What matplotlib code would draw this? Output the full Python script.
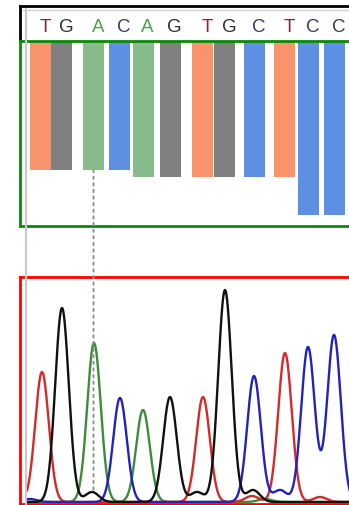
import numpy as np
import matplotlib
matplotlib.use("Agg")
import matplotlib.pyplot as plt
from matplotlib.lines import Line2D
from matplotlib.patches import ConnectionPatch
import matplotlib.transforms as mtransforms

# base calls, their positions (scan units) and bar heights
bases = ["T", "G", "A", "C", "A", "G", "T", "G", "C", "T", "C", "C"]
base_pos = [41, 61.5, 93.5, 119.5, 143, 170, 202.5, 224.5, 254, 284.5, 308, 334]
bar_height = [129, 129, 129, 129, 136, 136, 136, 136, 136, 136, 174, 174]

# trace peaks per channel: (position, height)
peaks_T = [(42, 130), (203, 105), (285, 149), (320, 5), (252, 6)]
peaks_G = [(62, 194), (92, 10), (170, 105), (197, 10), (225, 212), (253, 12)]
peaks_A = [(94, 159), (143, 92), (265, 3)]
peaks_C = [(30, 3), (120, 104), (254, 126), (280, 12), (308, 155), (334, 167)]

bar_colors = {"T": "#f8936c", "G": "#808080", "A": "#88bb8c", "C": "#5d8fe3"}
letter_colors = {"T": "#8e2236", "G": "#303030", "A": "#4f9f4f", "C": "#3a3a60"}
trace_colors = {"T": "#d42a2a", "G": "#111111", "A": "#3c8c3c", "C": "#2323bb"}

W, H = 349, 505
fig = plt.figure(figsize=(W / 100, H / 100), dpi=100)
fig.patch.set_facecolor("white")


def pax(x0, y0, x1, y1):
    return fig.add_axes([x0 / W, 1 - y1 / H, (x1 - x0) / W, (y1 - y0) / H])


def clean(ax, color):
    ax.set_xticks([])
    ax.set_yticks([])
    for s in ax.spines.values():
        s.set_color(color)
        s.set_linewidth(2)


XMIN, XMAX = 20, 362

# sequence letters
ax_seq = pax(20, 6, XMAX, 41)
clean(ax_seq, "black")
ax_seq.spines["bottom"].set_visible(False)
ax_seq.set_xlim(XMIN, XMAX)
ax_seq.set_ylim(0, 1)
shift = mtransforms.offset_copy(ax_seq.transData, fig=fig, x=4.5, y=0, units="dots")
for b, x in zip(bases, base_pos):
    ax_seq.text(x, 0.38, b, transform=shift, ha="center", va="center",
                fontsize=13.5, color=letter_colors[b], family="Liberation Sans")

# quality bars
ax_bar = pax(20, 41, XMAX, 226)
clean(ax_bar, "#0a8a0a")
ax_bar.set_xlim(XMIN, XMAX)
ax_bar.set_ylim(185, 0)
ax_bar.bar(base_pos, bar_height, width=21, color=[bar_colors[b] for b in bases], zorder=1)

# chromatogram
ax_tr = pax(20, 277, XMAX, 504)
clean(ax_tr, "#ff0000")
ax_tr.set_xlim(XMIN, XMAX)
ax_tr.set_ylim(-2, 225)
x = np.linspace(27, XMAX, 1500)
for ch, peaks in [("A", peaks_A), ("T", peaks_T), ("C", peaks_C), ("G", peaks_G)]:
    y = np.zeros_like(x)
    for p, h in peaks:
        y += h * np.exp(-(x - p) ** 2 / (2 * 6.8 ** 2))
    ax_tr.plot(x, y, color=trace_colors[ch], lw=1.7, solid_capstyle="round")

# cursor line from selected bar to trace
sel = 2
con = ConnectionPatch(xyA=(base_pos[sel], bar_height[sel]), coordsA=ax_bar.transData,
                      xyB=(base_pos[sel], 10), coordsB=ax_tr.transData,
                      color="#909090", lw=1.4, linestyle=(0, (1.2, 2.2)), zorder=6)
fig.add_artist(con)

# panel frame lines
fig.add_artist(Line2D([25.5 / W, 25.5 / W], [0, 1 - 9 / H], transform=fig.transFigure,
                      color="#c8c8c8", lw=1.5, zorder=5))
fig.add_artist(Line2D([23 / W, 1], [1 - 9.5 / H, 1 - 9.5 / H], transform=fig.transFigure,
                      color="#d0d0d0", lw=1.0, zorder=5))

fig.savefig("out.png", dpi=100)
